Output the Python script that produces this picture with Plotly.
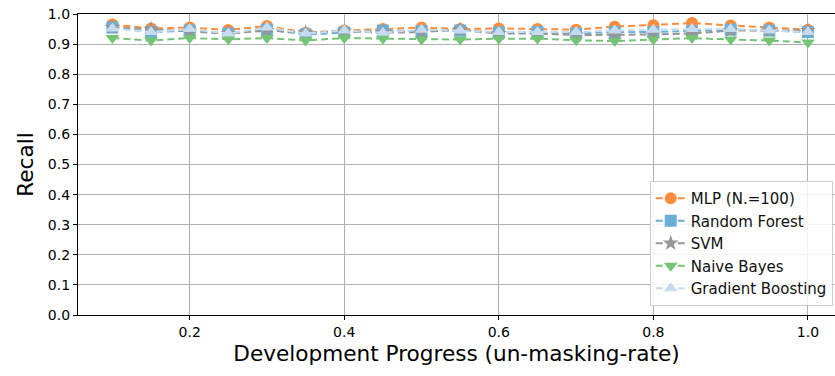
import plotly.graph_objects as go

# Un-masking rate (x) and recall per classifier
unmask_rate = [0.10, 0.15, 0.20, 0.25, 0.30, 0.35, 0.40, 0.45, 0.50, 0.55,
               0.60, 0.65, 0.70, 0.75, 0.80, 0.85, 0.90, 0.95, 1.00]

recall_mlp = [0.965, 0.952, 0.955, 0.947, 0.960, 0.938, 0.945, 0.950, 0.955, 0.950,
              0.952, 0.950, 0.948, 0.958, 0.963, 0.970, 0.962, 0.955, 0.948]
recall_rf = [0.955, 0.940, 0.945, 0.935, 0.948, 0.932, 0.938, 0.945, 0.943, 0.945,
             0.938, 0.940, 0.935, 0.940, 0.940, 0.943, 0.948, 0.945, 0.940]
recall_svm = [0.955, 0.950, 0.942, 0.935, 0.945, 0.938, 0.943, 0.938, 0.940, 0.948,
              0.935, 0.935, 0.930, 0.930, 0.932, 0.935, 0.945, 0.945, 0.945]
recall_nb = [0.920, 0.912, 0.920, 0.916, 0.920, 0.912, 0.920, 0.918, 0.915, 0.915,
             0.918, 0.918, 0.913, 0.910, 0.915, 0.920, 0.915, 0.912, 0.905]
recall_gb = [0.952, 0.940, 0.950, 0.935, 0.955, 0.935, 0.945, 0.938, 0.948, 0.945,
             0.940, 0.940, 0.940, 0.945, 0.948, 0.950, 0.950, 0.945, 0.940]

series_names = ["MLP (N.=100)", "Random Forest", "SVM", "Naive Bayes", "Gradient Boosting"]
series_values = [recall_mlp, recall_rf, recall_svm, recall_nb, recall_gb]
series_colors = ["#fd8d3c", "#6baed6", "#969696", "#74c476", "#c6dbef"]
series_symbols = ["circle", "square", "star", "triangle-down", "triangle-up"]

y_ticks = [round(0.1 * i, 1) for i in range(11)]
x_ticks = [0.2, 0.4, 0.6, 0.8, 1.0]

fig = go.Figure()
for name, vals, color, sym in zip(series_names, series_values, series_colors, series_symbols):
    fig.add_trace(go.Scatter(
        x=unmask_rate, y=vals, name=name, mode="lines+markers",
        line=dict(color=color, width=2, dash="7px,4px"),
        marker=dict(symbol=sym, size=12, color=color, line=dict(width=0)),
    ))

axis_font = dict(family="DejaVu Sans", size=14, color="black")
title_font = dict(family="DejaVu Sans", size=21.6, color="black")
fig.update_layout(
    width=835, height=376,
    margin=dict(l=78, r=0, t=14, b=61),
    paper_bgcolor="white", plot_bgcolor="white",
    font=dict(family="DejaVu Sans", color="black"),
    showlegend=True,
    legend=dict(
        x=0.997, y=0.03, xanchor="right", yanchor="bottom",
        bgcolor="rgba(255,255,255,0.85)", bordercolor="#cccccc", borderwidth=1,
        font=dict(family="DejaVu Sans", size=15, color="#111111"),
        tracegroupgap=0, itemwidth=30,
    ),
    xaxis=dict(
        range=[0.0555, 1.035], tickvals=x_ticks, ticktext=[f"{v:.1f}" for v in x_ticks],
        showgrid=True, gridcolor="#b0b0b0", gridwidth=1,
        showline=True, linecolor="black", linewidth=1.2, mirror=True,
        ticks="outside", ticklen=4, tickcolor="black", tickfont=axis_font,
        zeroline=False,
        title=dict(text="Development Progress (un-masking-rate)", font=title_font, standoff=6),
    ),
    yaxis=dict(
        range=[0, 1.0], tickvals=y_ticks, ticktext=[f"{v:.1f}" for v in y_ticks],
        showgrid=True, gridcolor="#b0b0b0", gridwidth=1,
        showline=True, linecolor="black", linewidth=1.2, mirror=True,
        ticks="outside", ticklen=4, tickcolor="black", tickfont=axis_font,
        zeroline=False,
        title=dict(text="Recall", font=title_font, standoff=8),
    ),
)

fig.write_html("out.html")
